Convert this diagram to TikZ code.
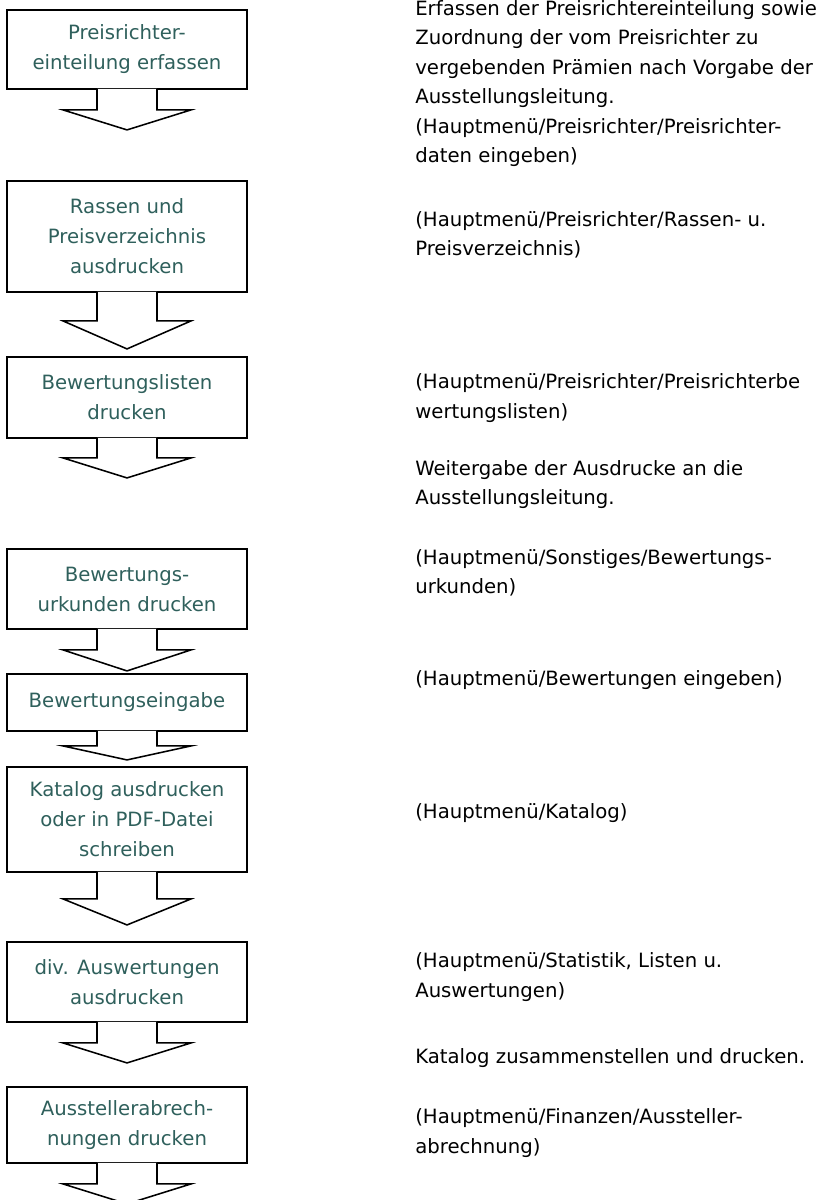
\documentclass[tikz,border=0pt]{standalone}
\usepackage{fontspec}
\setmainfont{DejaVu Sans}
\definecolor{boxtext}{RGB}{47,96,92}

% block arrow hanging below a box: box, stem length, head depth
\newcommand{\stepdown}[3]{%
  \filldraw[arrowline] ([shift={(-30,-1)}]#1.south) -- ++(0,#2+1) -- ++(-34,0)
    -- ++(64,#3) coordinate (#1-tip) -- ++(64,-#3) -- ++(-34,0) -- ++(0,-#2-1);
}

\begin{document}
\begin{tikzpicture}[x=0.025cm, y=-0.025cm,
  stepbox/.style={draw, line width=1.3pt, fill=white, minimum width=6cm, inner sep=0pt,
    align=center, text=boxtext, font=\fontsize{14}{21.3}\selectfont},
  arrowline/.style={line width=1.1pt, fill=white},
  menutext/.style={anchor=west, inner sep=0pt, align=left, font=\fontsize{14}{21}\selectfont}]
  \useasboundingbox (0,0) rectangle (825,1200);

  % Boxes (left column)
  \node[stepbox, minimum height=1.975cm] (erfassen) at (127,49.5) {Preisrichter-\\einteilung erfassen};
  \node[stepbox, minimum height=2.775cm] (rassen) at (127,236.5) {Rassen und\\Preisverzeichnis\\ausdrucken};
  \node[stepbox, minimum height=2.025cm] (listen) at (127,397.5) {Bewertungslisten\\drucken};
  \node[stepbox, minimum height=2cm] (urkunden) at (127,589) {Bewertungs-\\urkunden drucken};
  \node[stepbox, minimum height=1.425cm] (eingabe) at (127,702.5) {Bewertungseingabe};
  \node[stepbox, minimum height=2.625cm] (katalog) at (127,819.5) {Katalog ausdrucken\\oder in PDF-Datei\\schreiben};
  \node[stepbox, minimum height=2cm] (auswertung) at (127,982) {div. Auswertungen\\ausdrucken};
  \node[stepbox, minimum height=1.9cm] (abrechnung) at (127,1125) {Ausstellerabrech-\\nungen drucken};

  % Arrows
  \stepdown{erfassen}{20}{20}
  \stepdown{rassen}{28}{28}
  \stepdown{listen}{19}{20}
  \stepdown{urkunden}{20}{21}
  \stepdown{eingabe}{14}{14}
  \stepdown{katalog}{26}{26}
  \stepdown{auswertung}{20}{20}
  \stepdown{abrechnung}{20}{20}

  % Notes (right column)
  \node[menutext] (m1) at (415,83.5) {Erfassen der Preisrichtereinteilung sowie\\Zuordnung der vom Preisrichter zu\\vergebenden Prämien nach Vorgabe der\\Ausstellungsleitung.\\(Hauptmenü/Preisrichter/Preisrichter-\\daten eingeben)};
  \node[menutext] (m2) at (415,235) {(Hauptmenü/Preisrichter/Rassen- u.\\Preisverzeichnis)};
  \node[menutext] (m3) at (415,398) {(Hauptmenü/Preisrichter/Preisrichterbe\\wertungslisten)};
  \node[menutext] (m4) at (415,484.5) {Weitergabe der Ausdrucke an die\\Ausstellungsleitung.};
  \node[menutext] (m5) at (415,573) {(Hauptmenü/Sonstiges/Bewertungs-\\urkunden)};
  \node[menutext] (m6) at (415,680) {(Hauptmenü/Bewertungen eingeben)};
  \node[menutext] (m7) at (415,813) {(Hauptmenü/Katalog)};
  \node[menutext] (m8) at (415,977) {(Hauptmenü/Statistik, Listen u.\\Auswertungen)};
  \node[menutext] (m9) at (415,1058) {Katalog zusammenstellen und drucken.};
  \node[menutext] (m10) at (415,1133) {(Hauptmenü/Finanzen/Aussteller-\\abrechnung)};
\end{tikzpicture}
\end{document}
